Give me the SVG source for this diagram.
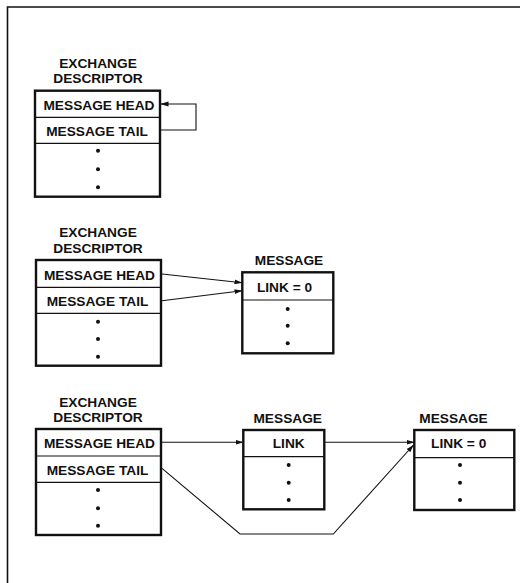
<svg xmlns="http://www.w3.org/2000/svg" width="520" height="583" viewBox="0 0 520 583">
<style>
text{font-family:"Liberation Sans",Arial,sans-serif;font-weight:bold;font-size:13.7px;fill:#111;text-anchor:middle}
.box{fill:#fff;stroke:#111;stroke-width:2.4}
.sep{stroke:#111;stroke-width:1.2;fill:none}
.dot{fill:#111}
.con{stroke:#111;stroke-width:1.1;fill:none}
.frame{stroke:#111;stroke-width:1.6;fill:none}
</style>
<defs>
<marker id="ah" markerWidth="8" markerHeight="6" refX="7.5" refY="3" orient="auto" markerUnits="userSpaceOnUse">
<path d="M0,0.6 L8,3 L0,5.4 Z" fill="#111"/>
</marker>
</defs>
<rect width="520" height="583" fill="#fff"/>
<path class="frame" d="M7.5,583 V7 H520"/>

<g id="xd1">
<text x="98" y="68.3">EXCHANGE</text>
<text x="98" y="83.3">DESCRIPTOR</text>
<rect class="box" x="35" y="90.7" width="125" height="106"/>
<line class="sep" x1="35" y1="117.3" x2="160" y2="117.3"/>
<line class="sep" x1="35" y1="143.3" x2="160" y2="143.3"/>
<text x="99" y="110">MESSAGE HEAD</text>
<text x="97" y="136">MESSAGE TAIL</text>
<circle class="dot" cx="98" cy="150.7" r="2"/>
<circle class="dot" cx="98" cy="169.3" r="2"/>
<circle class="dot" cx="98" cy="187.3" r="2"/>
</g>

<g id="xd2">
<text x="98" y="237.3">EXCHANGE</text>
<text x="98" y="253.3">DESCRIPTOR</text>
<rect class="box" x="36" y="260" width="125" height="105.7"/>
<line class="sep" x1="36" y1="287.3" x2="161" y2="287.3"/>
<line class="sep" x1="36" y1="313.3" x2="161" y2="313.3"/>
<text x="99.5" y="279.5">MESSAGE HEAD</text>
<text x="97.5" y="306">MESSAGE TAIL</text>
<circle class="dot" cx="98" cy="321.7" r="2"/>
<circle class="dot" cx="98" cy="339" r="2"/>
<circle class="dot" cx="98" cy="356.7" r="2"/>
</g>

<g id="msg2">
<text x="289" y="265">MESSAGE</text>
<rect class="box" x="242.3" y="272.3" width="91" height="81"/>
<line class="sep" x1="242.3" y1="300" x2="333.3" y2="300"/>
<text x="284.5" y="291.7">LINK = 0</text>
<circle class="dot" cx="287.7" cy="309" r="2"/>
<circle class="dot" cx="287.7" cy="325.7" r="2"/>
<circle class="dot" cx="287.7" cy="343.3" r="2"/>
</g>

<g id="xd3">
<text x="98" y="407.3">EXCHANGE</text>
<text x="98" y="422.3">DESCRIPTOR</text>
<rect class="box" x="36" y="429" width="125" height="106"/>
<line class="sep" x1="36" y1="456" x2="161" y2="456"/>
<line class="sep" x1="36" y1="482.3" x2="161" y2="482.3"/>
<text x="99.5" y="448.3">MESSAGE HEAD</text>
<text x="97.5" y="474.5">MESSAGE TAIL</text>
<circle class="dot" cx="98" cy="490" r="2"/>
<circle class="dot" cx="98" cy="508.3" r="2"/>
<circle class="dot" cx="98" cy="525.7" r="2"/>
</g>

<g id="msg3a">
<text x="287.7" y="422.7">MESSAGE</text>
<rect class="box" x="243.3" y="430" width="81" height="79.3"/>
<line class="sep" x1="243.3" y1="456.7" x2="324.3" y2="456.7"/>
<text x="288.7" y="448.3">LINK</text>
<circle class="dot" cx="288.7" cy="465" r="2"/>
<circle class="dot" cx="288.7" cy="482.7" r="2"/>
<circle class="dot" cx="288.7" cy="500" r="2"/>
</g>

<g id="msg3b">
<text x="453.5" y="422.7">MESSAGE</text>
<rect class="box" x="414.3" y="430" width="100" height="80"/>
<line class="sep" x1="414.3" y1="457.7" x2="514.3" y2="457.7"/>
<text x="458.7" y="448.3">LINK = 0</text>
<circle class="dot" cx="460" cy="465" r="2"/>
<circle class="dot" cx="460" cy="482.7" r="2"/>
<circle class="dot" cx="460" cy="500" r="2"/>
</g>

<g id="connectors">
<path class="con" d="M161,130 H196 V104 H161" marker-end="url(#ah)"/>
<path class="con" d="M162,274 L242,282.7" marker-end="url(#ah)"/>
<path class="con" d="M162,300.7 L242,290.7" marker-end="url(#ah)"/>
<path class="con" d="M162,442.3 H243" marker-end="url(#ah)"/>
<path class="con" d="M325,442.3 H414" marker-end="url(#ah)"/>
<path class="con" d="M162,468.3 L240,534 H333.3 L413.5,445" marker-end="url(#ah)"/>
</g>
</svg>
